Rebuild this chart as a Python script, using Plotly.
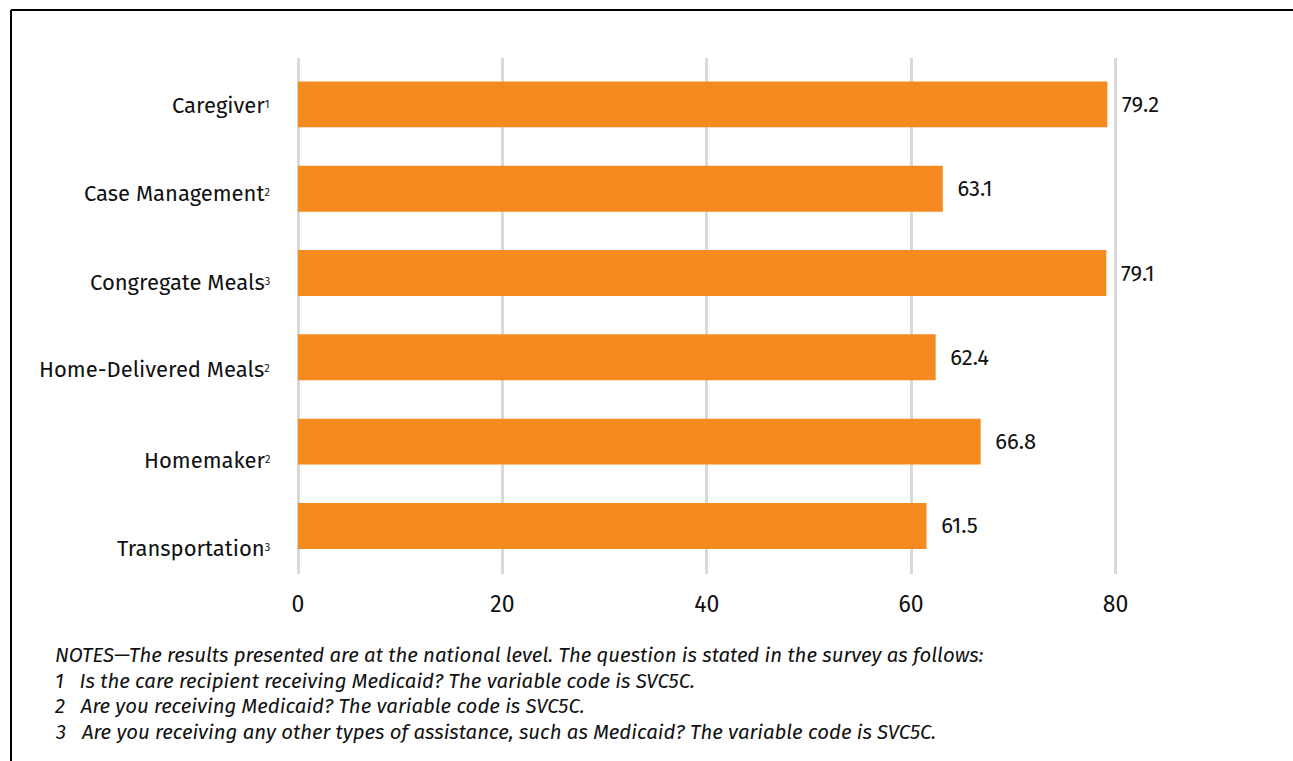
import plotly.graph_objects as go

categories = ["Caregiver", "Case Management", "Congregate Meals",
              "Home-Delivered Meals", "Homemaker", "Transportation"]
footnote_marks = ["1", "2", "3", "2", "2", "3"]
values = [79.2, 63.1, 79.1, 62.4, 66.8, 61.5]
tick_vals = [0, 20, 40, 60, 80]
notes = [
    "NOTES\u2014The results presented are at the national level. The question is stated in the survey as follows:",
    "1   Is the care recipient receiving Medicaid? The variable code is SVC5C.",
    "2   Are you receiving Medicaid? The variable code is SVC5C.",
    "3   Are you receiving any other types of assistance, such as Medicaid? The variable code is SVC5C.",
]

W, H = 1293, 761
L, R, T, B = 298, 63, 58, 187
pw, ph = W - L - R, H - T - B

def px(x):
    return (x - L) / pw

def py(y):
    return (H - B - y) / ph

FONT = "Fira Sans, Open Sans, Noto Sans, sans-serif"
fig = go.Figure(go.Bar(
    x=values, y=categories, orientation="h",
    marker=dict(color="#F58A20", line=dict(width=0)),
    width=0.545,
    text=values, texttemplate="  %{x}", textposition="outside",
    textfont=dict(size=22, color="#111111", family=FONT),
    cliponaxis=False,
))

fig.update_layout(
    width=W, height=H,
    margin=dict(l=L, r=R, t=T, b=B),
    plot_bgcolor="white", paper_bgcolor="white",
    font=dict(family=FONT, color="#111111"),
    showlegend=False,
    xaxis=dict(range=[0, 91.2], tickvals=tick_vals, showgrid=True, gridcolor="#D9D9D9", gridwidth=2.5,
               zeroline=True, zerolinecolor="#D9D9D9", zerolinewidth=2.5,
               ticks="outside", ticklen=9, tickcolor="rgba(0,0,0,0)",
               tickfont=dict(size=23, color="#111111"), showline=False),
    yaxis=dict(autorange=False, range=[5.57, -0.55], showticklabels=False,
               showgrid=False, showline=False),
)

# category labels (drawn as annotations so they can sit like the original's)
label_drop = [1, 5, 9, 12, 19, 23]
for cat, mark, d in zip(categories, footnote_marks, label_drop):
    fig.add_annotation(text=cat + "<span style='font-size:11px;baseline-shift:5px'>" + mark + "</span>",
                       x=0, y=cat, xref="x", yref="y", xanchor="right", yanchor="middle",
                       xshift=-26, yshift=-d, showarrow=False,
                       font=dict(size=22, color="#111111", family=FONT))

# figure border (top and left lines)
fig.add_shape(type="line", xref="paper", yref="paper", x0=px(11), x1=px(W + 5), y0=py(10), y1=py(10),
              line=dict(color="black", width=2))
fig.add_shape(type="line", xref="paper", yref="paper", x0=px(11), x1=px(11), y0=py(10), y1=py(H + 5),
              line=dict(color="black", width=2))

for i, n in enumerate(notes):
    fig.add_annotation(text="<i>" + n + "</i>", xref="paper", yref="paper", x=px(53), y=py(655 + i * 25.7),
                       xanchor="left", yanchor="middle", showarrow=False,
                       font=dict(size=20.4, color="#111111", family=FONT))

fig.write_html("out.html", config={"displayModeBar": False},
               post_script="document.body.style.margin='0px';")
